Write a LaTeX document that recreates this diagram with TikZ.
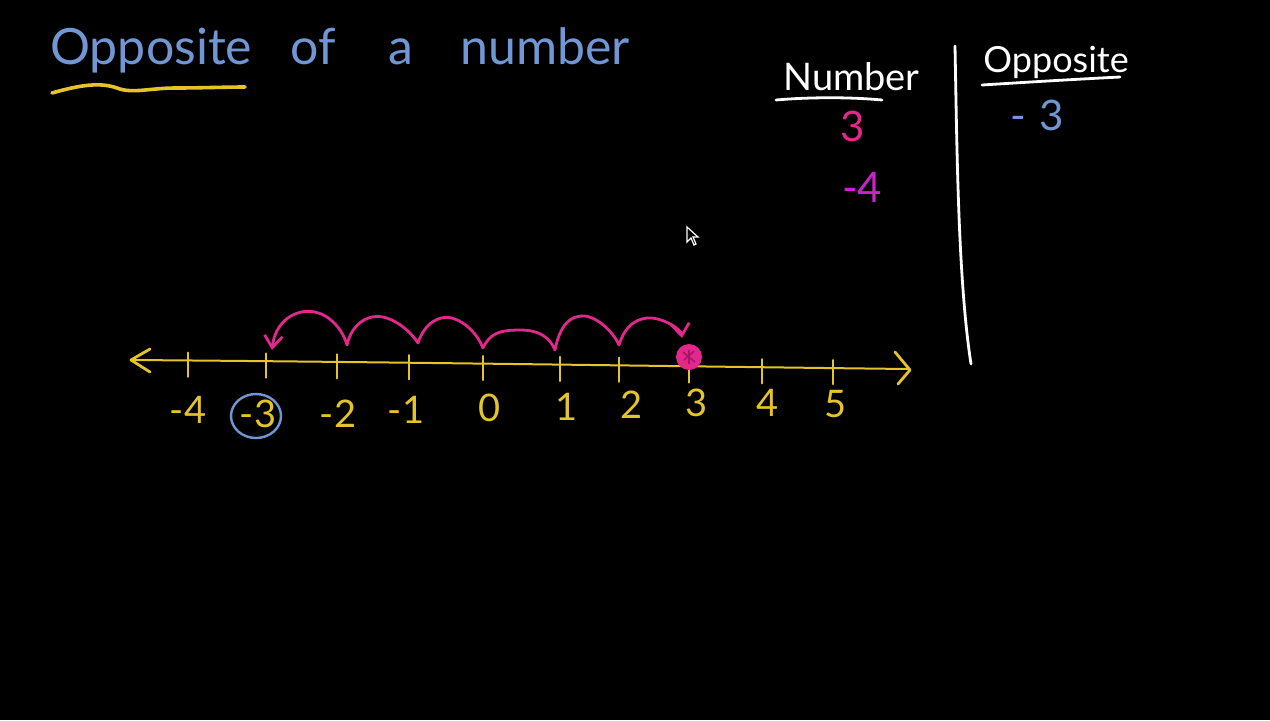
\documentclass[tikz,border=0pt]{standalone}
\usepackage{fontspec}
\setmainfont{Lato}
\usetikzlibrary{arrows.meta}
\definecolor{chalkblue}{RGB}{112,150,212}
\definecolor{chalkyellow}{RGB}{228,196,40}
\definecolor{chalkpink}{RGB}{226,40,140}
\definecolor{chalkpurple}{RGB}{204,34,204}
\tikzset{
  stroke/.style={line width=1.4pt,line cap=round,line join=round},
  ylw/.style={stroke,draw=chalkyellow},
  lbl/.style={text=chalkyellow,font=\fontsize{19}{19}\selectfont,inner sep=0pt},
  tick/.style={ylw,line width=1.2pt},
  ttl/.style={anchor=base west,inner sep=0pt,text=chalkblue,font=\fontsize{25}{25}\selectfont},
}
\begin{document}
\begin{tikzpicture}[x=0.5pt,y=-0.5pt]
\fill[black] (0,0) rectangle (1270,720);
\useasboundingbox (0,0) rectangle (1270,720);
% title
\node[ttl] (t1) at (50,64) {Opposite};
\node[ttl] (t2) at (290,64) {of};
\node[ttl] (t3) at (388,64) {a};
\node[ttl] (t4) at (460,64) {number};
\draw[ylw,line width=1.8pt] (52,93) .. controls (80,85) and (100,82) .. (117,88) .. controls (132,94) and (150,88) .. (175,88) .. controls (200,88) and (225,87) .. (245,87);
% table
\node[anchor=base west,inner sep=0pt,text=white,font=\fontsize{19}{19}\selectfont] (num) at (783,90) {Number};
\node[anchor=base west,inner sep=0pt,text=white,font=\fontsize{18}{18}\selectfont] (opp) at (983,72) {Opposite};
\draw[stroke,white] (776,100) .. controls (810,97) and (850,97) .. (882,100);
\draw[stroke,white] (982,85) .. controls (1030,82) and (1080,79) .. (1120,77);
\draw[stroke,white] (955,46) .. controls (957,150) and (958,280) .. (971,364);
\node[text=chalkpink,font=\fontsize{21}{21}\selectfont,inner sep=0pt] (n3) at (853,126) {3};
\node[text=chalkpurple,font=\fontsize{21}{21}\selectfont,inner sep=0pt] (n4) at (862,187) {-4};
\node[text=chalkblue,font=\fontsize{21}{21}\selectfont,inner sep=0pt] (o3) at (1037,115) {-\,\,3};
% cursor
\draw[white,line width=0.6pt,fill=black] (687,227) -- (687,242) -- (691,238) -- (694,245) -- (696,244) -- (693,237) -- (698,237) -- cycle;
% number line
\coordinate (L) at (132,360);
\coordinate (R) at (908,369);
\draw[ylw,line width=1pt] (L) .. controls (400,362) and (650,366) .. (R);
\draw[ylw] (150,349) -- (131,360) -- (150,372);
\draw[ylw] (895,352) -- (910,370) -- (898,384);
\foreach \x in {188,266,337,409,483,560,619,689,762,833}{
  \pgfmathsetmacro{\yy}{360+(\x-130)*9/780}
  \draw[tick] (\x,\yy-8) -- (\x,\yy+16);
}
\node[lbl] (lm4) at (188,410) {-4};
\node[lbl] (lm3) at (258,414) {-3};
\node[lbl] (lm2) at (338,414) {-2};
\node[lbl] (lm1) at (406,410) {-1};
\node[lbl] (l0) at (490,408) {0};
\node[lbl] (l1) at (567,407) {1};
\node[lbl] (l2) at (632,405) {2};
\node[lbl] (l3) at (697,403) {3};
\node[lbl] (l4) at (768,403) {4};
\node[lbl] (l5) at (836,404) {5};
\draw[stroke,chalkblue,line width=1.2pt] (256,416) ellipse [x radius=25, y radius=22];
% point at 3
\fill[chalkpink] (689,357) circle (13);
\draw[line width=0.8pt,draw={rgb,255:red,170;green,20;blue,100}] (683,352) -- (695,362) (684,360) -- (694,351) (689,350) -- (689,364);
% jumps
\draw[stroke,chalkpink,{Straight Barb[length=6pt,width=9pt]}-{Straight Barb[length=6pt,width=9pt]}] (272,350)
 .. controls (275,322) and (295,308) .. (315,312)
 .. controls (330,315) and (343,330) .. (347,345)
 .. controls (352,322) and (370,314) .. (383,317)
 .. controls (400,321) and (413,335) .. (418,343)
 .. controls (425,322) and (440,315) .. (452,318)
 .. controls (466,322) and (478,335) .. (483,348)
 .. controls (490,333) and (500,330) .. (520,330)
 .. controls (540,330) and (550,338) .. (555,350)
 .. controls (560,325) and (570,315) .. (585,316)
 .. controls (600,318) and (615,335) .. (619,345)
 .. controls (625,325) and (638,317) .. (652,318)
 .. controls (668,320) and (681,330) .. (682,338);
\end{tikzpicture}
\end{document}
